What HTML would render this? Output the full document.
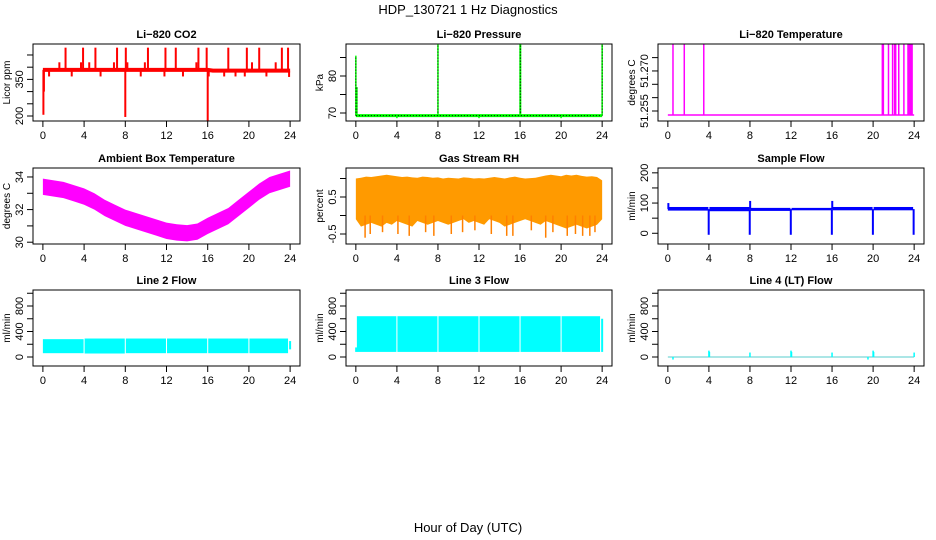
<!DOCTYPE html>
<html><head><meta charset="utf-8"><style>
body{margin:0;background:#fff}
svg{display:block;font-family:"Liberation Sans",sans-serif}
</style></head><body>
<svg id="c" width="936" height="540" viewBox="0 0 936 540" xmlns="http://www.w3.org/2000/svg">
<text x="468" y="14" text-anchor="middle" font-size="13">HDP_130721  1 Hz Diagnostics</text>
<text x="468" y="532" text-anchor="middle" font-size="13">Hour of Day (UTC)</text>
</svg>
<script>
const xTicks=[0,4,8,12,16,20,24];
// CO2
const co2BaseHours=[0,4,8,12,16,16.5,20,24];
const co2BaseVals=[389,389,389,389,389,386,386,386];
const co2SpikeHours=[0.05,0.1,1.6,2.2,3.7,3.9,4.5,5.1,6.9,7.2,8.0,8.05,8.2,9.9,10.2,11.9,12.9,14.9,15.1,15.9,16.0,18.0,19.8,20.3,21.0,22.6,23.2,23.8,0.6,2.8,5.6,9.5,11.8,13.6,16.1,17.6,18.7,19.6,21.7,23.9];
const co2SpikeVals=[205,300,420,480,420,480,420,480,420,480,196,480,420,420,480,480,480,420,480,480,180,480,480,420,480,420,480,480,362,362,362,362,362,362,362,362,362,362,362,360];
// Ambient box temperature
const ambHours=[0,1,2,3,4,5,6,7,8,9,10,11,12,13,14,15,16,17,18,19,20,21,22,23,24];
const ambMid=[33.4,33.3,33.2,33.0,32.8,32.5,32.1,31.8,31.5,31.3,31.1,30.9,30.7,30.6,30.55,30.65,31.0,31.3,31.6,32.1,32.6,33.1,33.5,33.7,33.9];
const ambHalf=0.5;
// Pressure
const presBase=69.3;
const presSpikeHours=[0.0,0.1,8.0,16.0,16.05,24.0,4.0,12.0,20.0];
const presSpikeVals=[85.5,77,88.5,89,89,88.5,68.6,68.6,68.6];
// Li-820 temperature
const ltBase=51.2535;
const ltSpikeHours=[0.5,1.6,3.5,20.9,21.0,21.5,21.9,22.1,22.2,22.5,23.0,23.4,23.5,23.6,23.7,23.8];
const ltSpikeVal=51.29;
// RH
const rhHours=[0,0.5,1,1.5,2,2.5,3,3.5,4,4.5,5,5.5,6,6.5,7,7.5,8,8.5,9,9.5,10,10.5,11,11.5,12,12.5,13,13.5,14,14.5,15,15.5,16,16.5,17,17.5,18,18.5,19,19.5,20,20.5,21,21.5,22,22.5,23,23.5,24];
const rhUpper=[1.0,1.02,1.05,1.04,1.06,1.08,1.1,1.08,1.06,1.04,1.05,1.03,1.02,1.05,1.04,1.02,1.03,1.0,1.02,1.01,1.0,1.03,1.02,1.0,1.01,1.0,1.02,1.04,1.02,1.0,1.03,1.05,1.02,1.0,1.01,1.02,1.05,1.08,1.1,1.08,1.06,1.1,1.08,1.1,1.07,1.05,1.06,1.04,0.95];
const rhLower=[-0.1,-0.3,-0.25,-0.2,-0.25,-0.3,-0.2,-0.25,-0.15,-0.2,-0.25,-0.3,-0.15,-0.2,-0.25,-0.2,-0.15,-0.2,-0.25,-0.2,-0.15,-0.1,-0.2,-0.15,-0.2,-0.25,-0.1,-0.15,-0.2,-0.3,-0.25,-0.2,-0.15,-0.1,-0.15,-0.2,-0.25,-0.15,-0.2,-0.25,-0.3,-0.35,-0.3,-0.25,-0.3,-0.35,-0.3,-0.25,-0.1];
const rhSpikeHours=[0.9,1.4,2.6,4.1,5.2,6.8,7.6,9.3,10.4,11.6,13.2,14.7,15.3,17.1,18.5,19.2,20.6,21.4,22.1,22.8,23.3];
const rhSpikeVals=[-0.6,-0.5,-0.45,-0.5,-0.55,-0.45,-0.55,-0.5,-0.45,-0.4,-0.5,-0.55,-0.55,-0.4,-0.6,-0.45,-0.55,-0.5,-0.55,-0.55,-0.45];
// Sample flow
const sfSegStart=[0,4.05,8.05,12.05,16.05,20.05];
const sfSegEnd=[3.95,7.95,11.95,15.95,19.95,23.9];
const sfUpper=[87,87,84,84,87,87];
const sfLower=[75,73,74,76,76,76];
const sfSpikeHours=[0.05,3.98,7.98,8.02,11.98,15.98,16.02,19.98,23.95];
const sfSpikeVals=[100,-5,-5,107,-5,-5,107,-5,-5];
// Line 2, 3 flows
const segStart=[0,4.05,8.05,12.05,16.05,20.05];
const segEnd=[3.95,7.95,11.95,15.95,19.95,23.8];
const l2Upper=[280,290,290,290,290,290];
const l2Lower=[60,55,60,60,60,60];
const l3Upper=[640,640,640,640,640,640];
const l3Lower=[80,80,80,80,80,80];
// Line 4 flow
const l4Base=0;
const l4SpikeHours=[0.5,4.0,4.05,8.0,12.0,12.05,16.0,19.5,20.0,20.05,24.0];
const l4SpikeVals=[-40,100,80,70,100,80,70,-40,100,80,70];

const NS="http://www.w3.org/2000/svg";
const svg=document.getElementById('c');
const cols=[[33,300],[346,612],[658,924]];
const rows=[[44,121],[168,244],[290,366]];
function el(tag,attrs,parent){const e=document.createElementNS(NS,tag);for(const k in attrs)e.setAttribute(k,attrs[k]);(parent||svg).appendChild(e);return e;}
function panel(c,r,ydom,title,ylab,yticks,ylabels,name){
  const [x0,x1]=cols[c],[y0,y1]=rows[r];
  const g=el('g',{});
  
  
  const sx=h=>x0+(h+0.96)/25.92*(x1-x0);
  const sy=v=>y1-(v-ydom[0])/(ydom[1]-ydom[0])*(y1-y0);
  const plot=el('g',{'clip-path':'url(#cp'+c+r+')'},g);
  const cp=el('clipPath',{id:'cp'+c+r},g);el('rect',{x:x0,y:y0,width:x1-x0,height:y1-y0},cp);
  const t=el('text',{x:(x0+x1)/2,y:y0-6,'text-anchor':'middle','font-size':11,'font-weight':'bold'},g);t.textContent=title;
  
  
  const yl=el('text',{transform:`translate(${x0-23},${(y0+y1)/2}) rotate(-90)`,'text-anchor':'middle','font-size':10},g);yl.textContent=ylab;
  
  
  xTicks.forEach(h=>{el('line',{x1:sx(h),x2:sx(h),y1:y1,y2:y1+6,stroke:'#000'},g);
    const tx=el('text',{x:sx(h),y:y1+18,'text-anchor':'middle','font-size':11},g);tx.textContent=h;
    
    });
  yticks.forEach(v=>{el('line',{x1:x0-6,x2:x0,y1:sy(v),y2:sy(v),stroke:'#000'},g);});
  ylabels.forEach(v=>{const tx=el('text',{transform:`translate(${x0-10},${sy(v)}) rotate(-90)`,'text-anchor':'middle','font-size':11},g);tx.textContent=v;
    
    });
  el('rect',{x:x0,y:y0,width:x1-x0,height:y1-y0,fill:'none',stroke:'#000'},g);
  return {sx,sy,g:plot};
}
function vline(p,h,a,b,col,w,extra){const l=el('line',Object.assign({x1:p.sx(h),x2:p.sx(h),y1:p.sy(a),y2:p.sy(b),stroke:col,'stroke-width':w||1},extra||{}),p.g);return l;}
function band(p,hs,up,lo,fill,name){let pts=hs.map((h,i)=>p.sx(h)+','+p.sy(up[i]));pts=pts.concat(hs.slice().reverse().map((h,i)=>p.sx(h)+','+p.sy(lo[hs.length-1-i])));
  const pg=el('polygon',{points:pts.join(' '),fill:fill},p.g);
  
  return pg;}

// CO2
let p=panel(0,0,[179.5,495],'Li−820 CO2','Licor ppm',[200,250,300,350,400,450],[200,350],'co2');
co2SpikeHours.forEach((h,i)=>{const base=co2BaseVals[co2BaseHours.findIndex((bh,j)=>j==co2BaseHours.length-1||co2BaseHours[j+1]>h)];const l=vline(p,h,base,co2SpikeVals[i],'#ff0000',2);
  
  });
let pl=el('polyline',{points:co2BaseHours.map((h,i)=>p.sx(h)+','+p.sy(co2BaseVals[i])).join(' '),fill:'none',stroke:'#ff0000','stroke-width':4},p.g);



// Pressure
p=panel(1,0,[67.84,88.65],'Li−820 Pressure','kPa',[70,75,80,85],[70,80],'pressure');
presSpikeHours.forEach((h,i)=>{vline(p,h,presBase,presSpikeVals[i],'#00ff00',1.5);const l=vline(p,h,presBase,presSpikeVals[i],'#000',1,{'stroke-dasharray':'1 2'});
  
  });
pl=el('line',{x1:p.sx(0),x2:p.sx(24),y1:p.sy(presBase),y2:p.sy(presBase),stroke:'#00ff00','stroke-width':3},p.g);


el('line',{x1:p.sx(0),x2:p.sx(24),y1:p.sy(presBase),y2:p.sy(presBase),stroke:'#000','stroke-width':1,'stroke-dasharray':'1 2'},p.g);

// Li temp
p=panel(2,0,[51.25125,51.2801],'Li−820 Temperature','degrees C',[51.255,51.26,51.265,51.27,51.275],['51.255','51.270'],'li820-temp');
ltSpikeHours.forEach(h=>{const l=vline(p,h,ltBase,ltSpikeVal,'#ff00ff',1.5);
  
  });
pl=el('line',{x1:p.sx(0),x2:p.sx(24),y1:p.sy(ltBase),y2:p.sy(ltBase),stroke:'#ff00ff','stroke-width':1.5},p.g);



// Ambient
p=panel(0,1,[29.89,34.55],'Ambient Box Temperature','degrees C',[30,31,32,33,34],[30,32,34],'ambient');
band(p,ambHours,ambMid.map(v=>v+ambHalf),ambMid.map(v=>v-ambHalf),'#ff00ff','ambient-band');

// RH
p=panel(1,1,[-0.77,1.284],'Gas Stream RH','percent',[-0.5,0,0.5,1.0],['-0.5','0.5'],'rh');
band(p,rhHours,rhUpper,rhLower,'#ff9a00','rh-band');
rhSpikeHours.forEach((h,i)=>{const l=vline(p,h,0,rhSpikeVals[i],'#ff8000',1.5);
  
  });

// Sample flow
p=panel(2,1,[-35.5,216],'Sample Flow','ml/min',[0,50,100,150,200],[0,100,200],'sample-flow');
sfSegStart.forEach((s,i)=>{const r=el('rect',{x:p.sx(s),y:p.sy(sfUpper[i]),width:p.sx(sfSegEnd[i])-p.sx(s),height:p.sy(sfLower[i])-p.sy(sfUpper[i]),fill:'#0000ff'},p.g);
  
  });
sfSpikeHours.forEach((h,i)=>{const l=vline(p,h,80,sfSpikeVals[i],'#0000ff',2);
  
  });

// Line 2
p=panel(0,2,[-141,1051],'Line 2 Flow','ml/min',[0,200,400,600,800,1000],[0,400,800],'line2');
segStart.forEach((s,i)=>{const r=el('rect',{x:p.sx(s),y:p.sy(l2Upper[i]),width:p.sx(segEnd[i])-p.sx(s),height:p.sy(l2Lower[i])-p.sy(l2Upper[i]),fill:'#00ffff'},p.g);
  
  });
vline(p,24,120,250,'#00ffff',2);

// Line 3
p=panel(1,2,[-141,1051],'Line 3 Flow','ml/min',[0,200,400,600,800,1000],[0,400,800],'line3');
segStart.forEach((s,i)=>{const st=i==0?0.1:s;const r=el('rect',{x:p.sx(st),y:p.sy(l3Upper[i]),width:p.sx(segEnd[i])-p.sx(st),height:p.sy(l3Lower[i])-p.sy(l3Upper[i]),fill:'#00ffff'},p.g);
  
  });
vline(p,0.03,80,150,'#00ffff',2);vline(p,24,80,600,'#00ffff',2);

// Line 4
p=panel(2,2,[-141,1051],'Line 4 (LT) Flow','ml/min',[0,200,400,600,800,1000],[0,400,800],'line4');
pl=el('line',{x1:p.sx(0),x2:p.sx(24),y1:p.sy(l4Base),y2:p.sy(l4Base),stroke:'#8fdede','stroke-width':1.5},p.g);


l4SpikeHours.forEach((h,i)=>{const l=vline(p,h,l4Base,l4SpikeVals[i],'#00ffff',1.5);
  
  });
</script>
</body></html>
